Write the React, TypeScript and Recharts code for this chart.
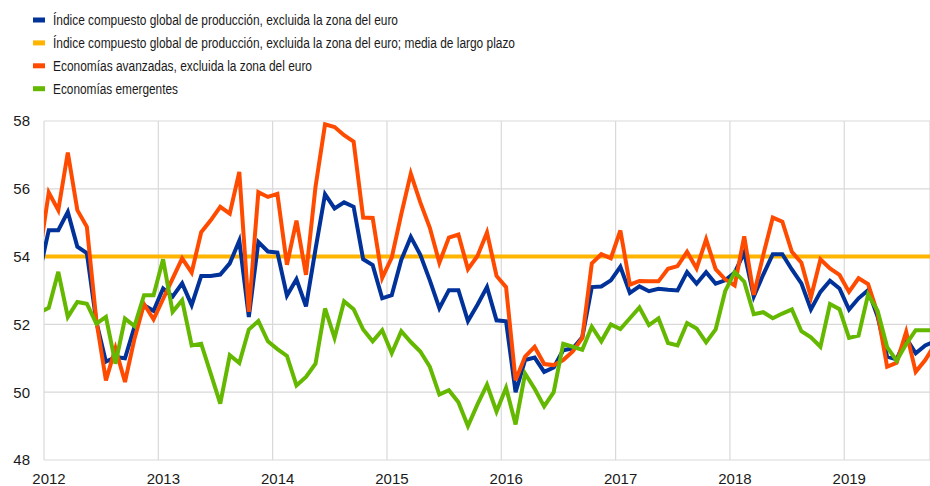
import React from "react";
import {
  LineChart,
  Line,
  XAxis,
  YAxis,
  CartesianGrid,
} from "recharts";

// ---------------------------------------------------------------------------
// Data: monthly, Dec 2011 .. Oct 2019 (first and last point fall just outside the plot)
// ---------------------------------------------------------------------------

const FIRST_MONTH_OFFSET = -1; // Dec 2011 relative to Jan 2012

const YEARS = ["2012", "2013", "2014", "2015", "2016", "2017", "2018", "2019"];

const LONG_TERM_MEAN = 54;

const globalExEA = [
  53.5,
  54.78, 54.78, 55.32, 54.29, 54.1, 52.07, 50.9, 51.04, 51.0, 51.93, 52.56, 52.4,
  53.06, 52.82, 53.21, 52.57, 53.43, 53.43, 53.47, 53.8, 54.47, 52.22, 54.43, 54.15,
  54.12, 52.85, 53.33, 52.53, 54.22, 55.84, 55.42, 55.6, 55.47, 53.92, 53.75, 52.77,
  52.86, 53.9, 54.58, 54.05, 53.3, 52.48, 53.01, 53.01, 52.1, 52.58, 53.1, 52.12,
  52.09, 50.0, 50.95, 51.02, 50.6, 50.73, 51.24, 51.29, 51.62, 53.1, 53.12, 53.3,
  53.7, 52.93, 53.12, 52.98, 53.05, 53.02, 53.0, 53.54, 53.2, 53.54, 53.2, 53.3,
  53.53, 54.12, 52.82, 53.47, 54.07, 54.07, 53.62, 53.21, 52.44, 52.96, 53.29, 53.06,
  52.44, 52.77, 53.01, 52.23, 51.05, 50.97, 51.59, 51.15, 51.38, 51.5,
];

const advancedExEA = [
  54.0,
  55.89, 55.37, 57.07, 55.37, 54.88, 52.1, 50.35, 51.3, 50.3, 51.58, 52.6, 52.15,
  52.75, 53.35, 53.95, 53.53, 54.72, 55.07, 55.47, 55.27, 56.5, 52.37, 55.9, 55.76,
  55.85, 53.76, 55.06, 53.46, 56.06, 57.9, 57.82, 57.58, 57.39, 55.15, 55.14, 53.37,
  53.97, 55.25, 56.45, 55.6, 54.85, 53.82, 54.56, 54.65, 53.63, 54.02, 54.71, 53.43,
  53.1, 50.35, 51.05, 51.34, 50.83, 50.8, 50.95, 51.2, 51.6, 53.8, 54.07, 53.95,
  54.77, 53.17, 53.28, 53.27, 53.27, 53.64, 53.72, 54.14, 53.65, 54.51, 53.63, 53.33,
  53.15, 54.6, 52.87, 54.05, 55.15, 55.03, 54.14, 53.82, 52.8, 53.92, 53.65, 53.46,
  52.96, 53.36, 53.19, 52.33, 50.75, 50.87, 51.78, 50.6, 50.95, 51.4,
];

const emerging = [
  52.35,
  52.49, 53.55, 52.22, 52.66, 52.61, 52.02, 52.22, 50.84, 52.17, 51.95, 52.86, 52.86,
  53.92, 52.37, 52.71, 51.38, 51.43, 50.55, 49.66, 51.09, 50.86, 51.85, 52.1, 51.5,
  51.27, 51.07, 50.2, 50.45, 50.84, 52.47, 51.6, 52.68, 52.45, 51.85, 51.5, 51.83,
  51.15, 51.8, 51.48, 51.2, 50.75, 49.93, 50.06, 49.7, 49.0, 49.64, 50.22, 49.43,
  50.13, 49.05, 50.55, 50.1, 49.58, 50.0, 51.43, 51.34, 51.25, 51.93, 51.5, 52.0,
  51.86, 52.18, 52.5, 51.98, 52.18, 51.45, 51.38, 52.04, 51.88, 51.47, 51.85, 52.98,
  53.54, 53.26, 52.3, 52.36, 52.18, 52.32, 52.44, 51.8, 51.62, 51.34, 52.6, 52.45,
  51.6, 51.67, 52.88, 52.4, 51.33, 50.93, 51.42, 51.83, 51.83, 51.83,
];

const LEGEND = [
  { label: "Índice compuesto global de producción, excluida la zona del euro", color: "#003299", width: 345 },
  { label: "Índice compuesto global de producción, excluida la zona del euro; media de largo plazo", color: "#ffb400", width: 462 },
  { label: "Economías avanzadas, excluida la zona del euro", color: "#ff4b00", width: 259 },
  { label: "Economías emergentes", color: "#65b800", width: 125 },
];

// months since Jan 2012, point drawn mid-month
const data = globalExEA.map((v, i) => ({
  t: i + FIRST_MONTH_OFFSET + 0.5,
  global: v,
  mean: LONG_TERM_MEAN,
  advanced: advancedExEA[i],
  emerging: emerging[i],
}));

const FONT = '"Liberation Sans", Arial, sans-serif';

const YearTick = (props: any) => {
  const { x, y, payload } = props;
  return (
    <text
      x={x + 5}
      y={y}
      dy="0.71em"
      textAnchor="middle"
      fontSize={15}
      fontFamily={FONT}
      fill="#1a1a1a"
    >
      {YEARS[Math.round(payload.value / 12)]}
    </text>
  );
};

export default function App() {
  return (
    <div
      style={{
        position: "absolute",
        left: 0,
        top: 0,
        width: 930,
        height: 486,
        background: "#fff",
      }}
    >
      <svg
        width={930}
        height={110}
        style={{ position: "absolute", left: 0, top: 0 }}
      >
        {LEGEND.map((l, i) => {
          const cy = 20 + i * 22.9;
          return (
            <g key={l.label}>
              <rect x={33} y={cy - 2.5} width={12} height={5} fill={l.color} />
              <text
                x={53}
                y={cy + 5}
                fontSize={15.5}
                fontFamily={FONT}
                fill="#1a1a1a"
                textLength={l.width}
                lengthAdjust="spacingAndGlyphs"
              >
                {l.label}
              </text>
            </g>
          );
        })}
      </svg>
      <LineChart
        width={930}
        height={486}
        data={data}
        margin={{ top: 121, right: 0, bottom: 0, left: 0 }}
      >
        <CartesianGrid stroke="#d9d9d9" strokeWidth={1.2} />
        <XAxis
          dataKey="t"
          type="number"
          domain={[0, 93]}
          allowDataOverflow
          ticks={[0, 12, 24, 36, 48, 60, 72, 84]}
          tick={<YearTick />}
          tickSize={0}
          tickMargin={13}
          axisLine={false}
          height={26}
          interval={0}
        />
        <YAxis
          domain={[48, 58]}
          ticks={[48, 50, 52, 54, 56, 58]}
          allowDataOverflow
          width={44}
          tickSize={0}
          tickMargin={14}
          axisLine={false}
          tick={{ fontSize: 15, fontFamily: FONT, fill: "#1a1a1a" }}
        />
        <Line
          dataKey="mean"
          stroke="#ffb400"
          strokeWidth={4}
          dot={false}
          isAnimationActive={false}
        />
        <Line
          dataKey="global"
          stroke="#003299"
          strokeWidth={4}
          dot={false}
          isAnimationActive={false}
        />
        <Line
          dataKey="advanced"
          stroke="#ff4b00"
          strokeWidth={4}
          dot={false}
          isAnimationActive={false}
        />
        <Line
          dataKey="emerging"
          stroke="#65b800"
          strokeWidth={4}
          dot={false}
          isAnimationActive={false}
        />
      </LineChart>
    </div>
  );
}
